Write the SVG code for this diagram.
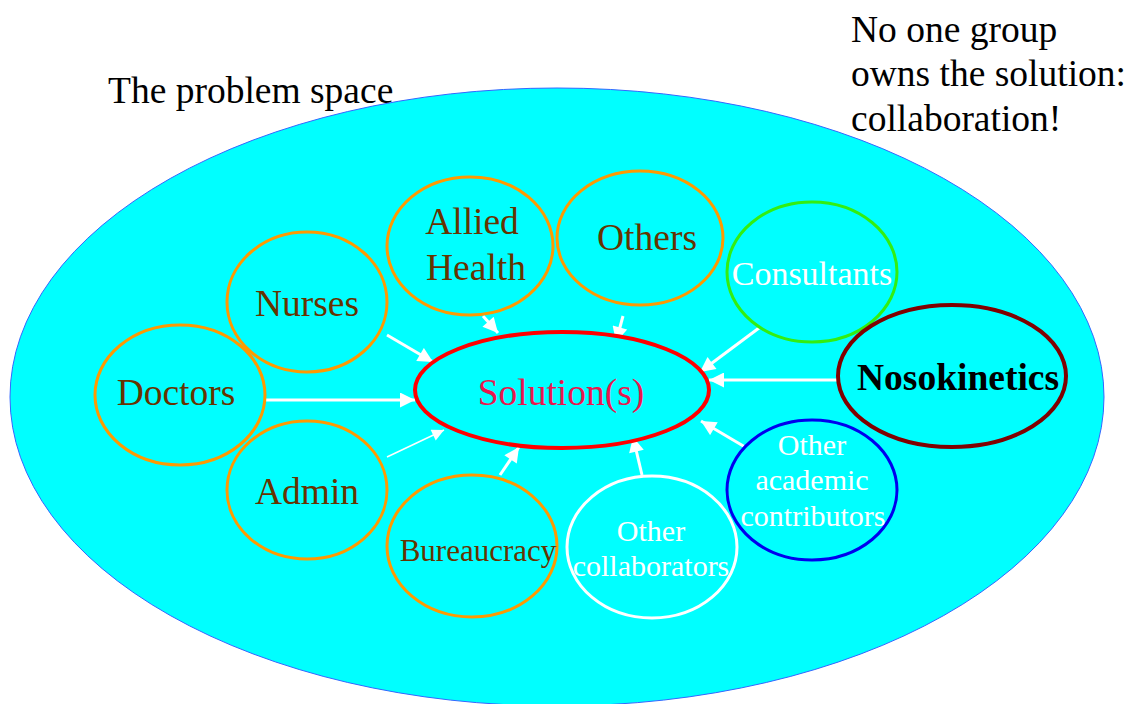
<svg xmlns="http://www.w3.org/2000/svg" width="1127" height="704" viewBox="0 0 1127 704">
<style>
text{font-family:"Liberation Serif","Times New Roman",serif}
.n{fill:#00FFFF;stroke-width:3}
.or{stroke:#FF9900}
.lb{fill:#663300;font-size:37.5px;text-anchor:middle}
.wl{fill:#FFFFFF;text-anchor:middle;font-size:30px}
.c line{stroke:#FFFFFF;stroke-width:3}
</style>
<defs>
<marker id="ah" viewBox="0 0 10 10" refX="10" refY="5" markerWidth="16" markerHeight="15" markerUnits="userSpaceOnUse" orient="auto">
<path d="M0,0 L10,5 L0,10 z" fill="#FFFFFF"/>
</marker>
<marker id="ahs" viewBox="0 0 10 10" refX="10" refY="5" markerWidth="13" markerHeight="12" markerUnits="userSpaceOnUse" orient="auto">
<path d="M0,0 L10,5 L0,10 z" fill="#FFFFFF"/>
</marker>
</defs>
<rect width="1127" height="704" fill="#FFFFFF"/>
<g id="space">
<ellipse cx="557" cy="397" rx="547" ry="309" fill="#00FFFF" stroke="#3366FF" stroke-width="1"/>
<text x="108" y="103" font-size="37.5" fill="#000">The problem space</text>
</g>
<g id="note">
<text x="851" y="42" font-size="37.5" fill="#000">No one group</text>
<text x="851" y="86" font-size="37.5" fill="#000">owns the solution:</text>
<text x="851" y="131" font-size="37.5" fill="#000">collaboration!</text>
</g>
<g class="c" id="connectors">
<line x1="387" y1="335" x2="433" y2="362" marker-end="url(#ah)"/>
<line x1="483" y1="316" x2="498" y2="333" marker-end="url(#ah)"/>
<line x1="623" y1="316" x2="616" y2="342" marker-end="url(#ah)"/>
<line x1="763" y1="325" x2="700" y2="372" marker-end="url(#ah)"/>
<line x1="838" y1="380" x2="709" y2="380" marker-end="url(#ah)"/>
<line x1="745" y1="447" x2="701" y2="421" marker-end="url(#ah)"/>
<line x1="642" y1="475" x2="633" y2="437" marker-end="url(#ah)"/>
<line x1="500" y1="475" x2="519" y2="447" marker-end="url(#ah)"/>
<line x1="387" y1="457" x2="444" y2="430" style="stroke-width:1.5" marker-end="url(#ahs)"/>
<line x1="265" y1="400" x2="415" y2="400" marker-end="url(#ah)"/>
</g>
<g id="solution">
<ellipse cx="562" cy="390" rx="147" ry="58" fill="#00FFFF" stroke="#FF0000" stroke-width="4"/>
<text x="561" y="405" font-size="37.5" fill="#E8174E" text-anchor="middle">Solution(s)</text>
</g>
<g id="doctors">
<ellipse class="n or" cx="180" cy="395" rx="85" ry="70"/>
<text class="lb" x="176" y="405">Doctors</text>
</g>
<g id="nurses">
<ellipse class="n or" cx="307" cy="302" rx="80" ry="70"/>
<text class="lb" x="307" y="316">Nurses</text>
</g>
<g id="admin">
<ellipse class="n or" cx="307" cy="490" rx="80" ry="69"/>
<text class="lb" x="307" y="504">Admin</text>
</g>
<g id="allied">
<ellipse class="n or" cx="470" cy="246" rx="83" ry="69"/>
<text class="lb" x="472" y="234">Allied</text>
<text class="lb" x="476" y="280">Health</text>
</g>
<g id="others">
<ellipse class="n or" cx="640" cy="238" rx="83" ry="67"/>
<text class="lb" x="647" y="250">Others</text>
</g>
<g id="consultants">
<ellipse class="n" stroke="#33EE11" cx="812" cy="272" rx="85" ry="70"/>
<text class="wl" x="812" y="285" style="font-size:34px">Consultants</text>
</g>
<g id="nosokinetics">
<ellipse cx="952" cy="376" rx="114" ry="71" fill="#00FFFF" stroke="#800000" stroke-width="4"/>
<text x="958" y="390" font-size="37.5" font-weight="bold" fill="#000" text-anchor="middle">Nosokinetics</text>
</g>
<g id="academic">
<ellipse class="n" stroke="#0000EE" cx="812" cy="490" rx="85" ry="70"/>
<text class="wl" x="812" y="455">Other</text>
<text class="wl" x="812" y="490">academic</text>
<text class="wl" x="813" y="526">contributors</text>
</g>
<g id="collaborators">
<ellipse class="n" stroke="#FFFFFF" cx="652" cy="547" rx="85" ry="71"/>
<text class="wl" x="651" y="541">Other</text>
<text class="wl" x="651" y="576">collaborators</text>
</g>
<g id="bureaucracy">
<ellipse class="n or" cx="472" cy="546" rx="85" ry="71"/>
<text class="lb" x="478" y="561" style="font-size:31px">Bureaucracy</text>
</g>
</svg>
